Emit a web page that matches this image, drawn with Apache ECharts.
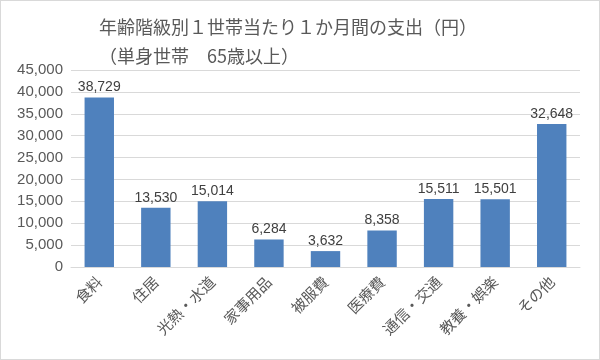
<!DOCTYPE html>
<html><head><meta charset="utf-8">
<script src="https://cdn.jsdelivr.net/npm/echarts@6/dist/echarts.min.js"></script>
<style>html,body{margin:0;padding:0;background:#fff}#c{width:598px;height:358px;border:1px solid #d9d9d9}</style>
</head><body><div id="c"></div>
<script>
const categories = ["食料","住居","光熱・水道","家事用品","被服費","医療費","通信・交通","教養・娯楽","その他"];
const values = [38729,13530,15014,6284,3632,8358,15511,15501,32648];
const titleLines = ["年齢階級別１世帯当たり１か月間の支出（円）","（単身世帯　65歳以上）"];
const chart = echarts.init(document.getElementById('c'));
const font = '"Noto Sans CJK JP", "Noto Sans", sans-serif';
chart.setOption({
  animation:false,
  title:{text:titleLines.join('\n'),left:93,top:7,textStyle:{fontFamily:font,fontSize:18,fontWeight:'normal',color:'#595959',lineHeight:29}},
  grid:{left:70,right:19,top:69,bottom:92,containLabel:false},
  xAxis:{type:'category',data:categories,axisTick:{show:false},axisLine:{lineStyle:{color:'#d9d9d9'}},
    axisLabel:{rotate:45,interval:0,fontFamily:font,fontSize:15,color:'#595959',margin:12}},
  yAxis:{type:'value',min:0,max:45000,interval:5000,axisLine:{show:false},axisTick:{show:false},
    splitLine:{lineStyle:{color:'#d9d9d9'}},
    axisLabel:{fontFamily:'Liberation Sans, Arial, sans-serif',fontSize:15,color:'#595959',margin:8,
      formatter:v=>v.toLocaleString('en-US')}},
  series:[{type:'bar',data:values,barWidth:'52%',itemStyle:{color:'#4f81bd'},
    label:{show:true,position:'top',fontFamily:'Liberation Sans, Arial, sans-serif',fontSize:14,color:'#404040',distance:3,
      formatter:p=>p.value.toLocaleString('en-US')}}]
});
</script></body></html>
